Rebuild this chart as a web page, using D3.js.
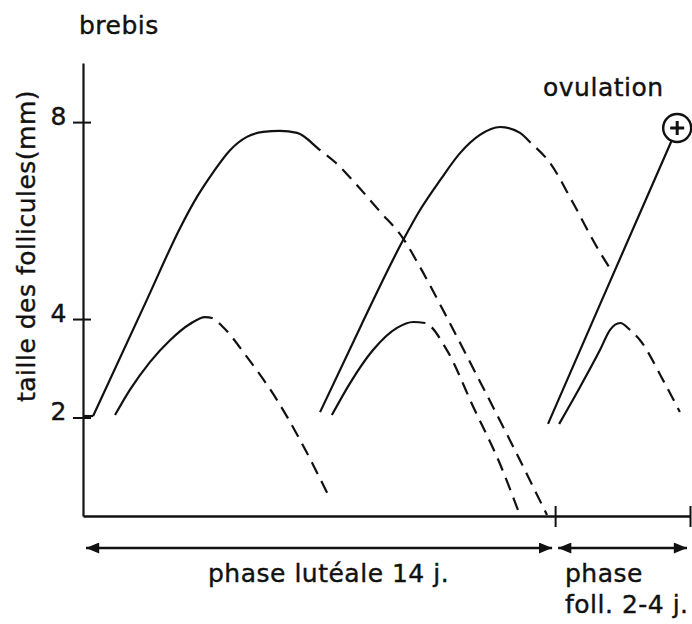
<!DOCTYPE html>
<html>
<head>
<meta charset="utf-8">
<script src="https://cdn.jsdelivr.net/npm/d3@7"></script>
<style>
  html, body { margin: 0; padding: 0; background: #fff; }
  svg text { font-family: "DejaVu Sans", sans-serif; fill: #111; letter-spacing: 0.5px; stroke: #111; stroke-width: 0.4px; }
</style>
</head>
<body>
<svg id="chart" width="692" height="624"></svg>
<script>
// ---- data (days, follicle size in mm) ----
const yTicks = [2, 4, 8];
const yTickLabels = ["2", "4", "8"];
const xTicks = [14, 18];

// short flat start of the first dominant follicle at the axis
const wave1Stub = [[0,2.03],[0.3,2.03]];
// each wave: full trajectory; the part after `solidUntil` (day) is dashed (atresia)
const wave1Large = [[0.3,2.03],[1.9,4.4],[2.88,5.85],[3.38,6.48],[3.86,6.98],[4.36,7.43],[4.86,7.7],[5.34,7.8],[5.84,7.82],[6.35,7.78],[7.03,7.43],[7.47,7.19],[8.07,6.76],[8.81,6.18],[9.49,5.64],[9.99,5.06],[10.74,4.1],[11.63,2.92],[12.66,1.54],[13.76,0.02]];
const wave1Small = [[0.95,2.05],[1.39,2.56],[1.99,3.13],[2.58,3.57],[3.17,3.9],[3.62,4.04],[3.83,4.02],[4.15,3.84],[4.86,3.23],[5.75,2.36],[6.44,1.54],[7.24,0.47]];
const wave2Large = [[7.03,2.11],[8.24,3.86],[9.49,5.6],[9.99,6.21],[10.59,6.82],[11.18,7.37],[11.77,7.74],[12.37,7.9],[12.96,7.78],[13.26,7.59],[13.85,7.17],[14.53,6.36],[15.24,5.46],[15.72,4.93]];
const wave2Small = [[7.38,2.05],[7.92,2.7],[8.6,3.37],[9.31,3.82],[9.79,3.94],[10.14,3.92],[10.79,3.37],[11.57,2.22],[12.37,1.05],[12.9,0.12]];
const wave3Small = [[14.12,1.87],[14.74,2.62],[15.33,3.37],[15.63,3.78],[15.93,3.92],[16.22,3.78],[16.52,3.57],[17.2,2.76],[17.7,2.11]];
const solidUntil = [7.03, 3.83, 13.26, 10.14, 16.22];
const ovulationLine = [[13.79,1.87],[15.39,4.39],[17.62,7.88]];
const ovulationPoint = [17.62, 7.88];

const phases = [
  { from: 0, to: 14, lines: ["phase lutéale 14 j."] },
  { from: 14, to: 18, lines: ["phase", "foll. 2-4 j."] }
];

const texts = {
  title: "brebis",
  yLabel: "taille des follicules(mm)",
  ovulation: "ovulation"
};

// ---- drawing ----
const svg = d3.select("#chart");
const x = d3.scaleLinear().domain([0, 18]).range([83, 690]);
const y = d3.scaleLinear().domain([0, 9.2]).range([516, 63]);
const ink = "#111";

// y axis
const yAxis = svg.append("g")
  .attr("transform", `translate(${x(0)},0)`)
  .call(d3.axisLeft(y).tickValues(yTicks).tickFormat((d, i) => yTickLabels[i]).tickSizeOuter(0));
yAxis.select(".domain").attr("stroke", ink).attr("stroke-width", 2.2);
yAxis.selectAll(".tick line").attr("x1", -10).attr("x2", 8).attr("stroke", ink).attr("stroke-width", 2);
yAxis.selectAll(".tick text")
  .attr("x", -16).attr("dy", "2px")
  .style("font-family", '"DejaVu Sans", sans-serif')
  .style("font-size", "25px").attr("fill", ink);

// x axis
const xAxis = svg.append("g")
  .attr("transform", `translate(0,${y(0)})`)
  .call(d3.axisBottom(x).tickValues(xTicks).tickFormat("").tickSizeOuter(0));
xAxis.select(".domain").attr("stroke", ink).attr("stroke-width", 2.4);
xAxis.selectAll(".tick line").attr("y1", -10).attr("y2", 11).attr("stroke", ink).attr("stroke-width", 2);

// waves
const line = d3.line()
  .x(d => x(d[0])).y(d => y(d[1]))
  .curve(d3.curveMonotoneX);
const straight = d3.line().x(d => x(d[0])).y(d => y(d[1]));

svg.append("path").attr("d", straight(wave1Stub))
  .attr("fill", "none").attr("stroke", ink).attr("stroke-width", 2.2);

const waves = [wave1Large, wave1Small, wave2Large, wave2Small, wave3Small];
const paths = svg.append("g").selectAll("path").data(waves).join("path")
  .attr("d", line).attr("fill", "none").attr("stroke", ink)
  .attr("stroke-width", 2.2).attr("stroke-linejoin", "round");

const DASH = 13, GAP = 8;
paths.each(function(d, i) {
  const total = this.getTotalLength();
  const xs = x(solidUntil[i]);
  let L = 0;
  while (L < total && this.getPointAtLength(L).x < xs) L += 0.5;
  const arr = [L];
  let s = L;
  while (s < total + 40) { arr.push(GAP, DASH); s += GAP + DASH; }
  arr.push(GAP, total + 100);
  d3.select(this).attr("stroke-dasharray", arr.join(","));
});

// ovulatory follicle
svg.append("path").attr("d", straight(ovulationLine))
  .attr("fill", "none").attr("stroke", ink).attr("stroke-width", 2.2);

const ov = svg.append("g").attr("transform", `translate(${x(ovulationPoint[0])},${y(ovulationPoint[1])})`);
ov.append("circle").attr("r", 14).attr("fill", "#fff").attr("stroke", ink).attr("stroke-width", 2.4);
ov.append("line").attr("x1", -7).attr("x2", 7).attr("stroke", ink).attr("stroke-width", 3);
ov.append("line").attr("y1", -7).attr("y2", 7).attr("stroke", ink).attr("stroke-width", 3);

// arrows
const defs = svg.append("defs");
defs.append("marker").attr("id", "ah").attr("viewBox", "0 0 12 10")
  .attr("refX", 12).attr("refY", 5).attr("markerUnits", "userSpaceOnUse")
  .attr("markerWidth", 14).attr("markerHeight", 11).attr("orient", "auto-start-reverse")
  .append("path").attr("d", "M0,0 L12,5 L0,10 Z").attr("fill", ink);

const arrowY = 548;
svg.append("g").selectAll("line").data(phases).join("line")
  .attr("x1", d => x(d.from) + 3)
  .attr("x2", d => x(d.to) - 3)
  .attr("y1", arrowY).attr("y2", arrowY)
  .attr("stroke", ink).attr("stroke-width", 2.4)
  .attr("marker-start", "url(#ah)").attr("marker-end", "url(#ah)");

// phase labels
const phaseTextPos = [[208, 582], [565, 582]];
phases.forEach((p, i) => {
  const t = svg.append("text").attr("x", phaseTextPos[i][0]).attr("y", phaseTextPos[i][1])
    .style("font-size", "25px");
  p.lines.forEach((s, j) => {
    t.append("tspan").attr("x", phaseTextPos[i][0]).attr("dy", j === 0 ? 0 : 31).text(s);
  });
});

// other texts
svg.append("text").attr("x", 79).attr("y", 34).style("font-size", "25px").text(texts.title);
svg.append("text").attr("x", 543).attr("y", 96).style("font-size", "25px").text(texts.ovulation);
svg.append("text").attr("transform", "translate(35,246) rotate(-90)")
  .attr("text-anchor", "middle").style("font-size", "25px").text(texts.yLabel);
</script>
</body>
</html>
